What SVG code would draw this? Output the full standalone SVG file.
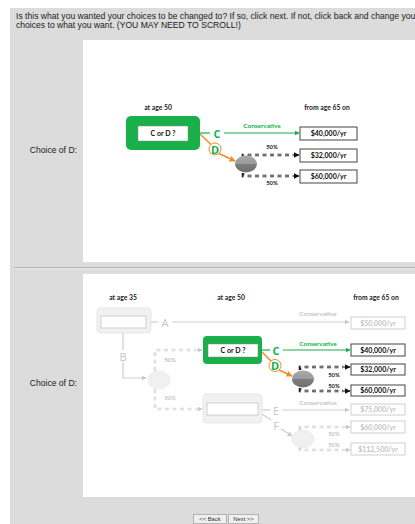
<svg xmlns="http://www.w3.org/2000/svg" width="415" height="524" viewBox="0 0 415 524">
  <style>
    .page { font-family: "Liberation Sans", Arial, sans-serif; font-size: 8.6px; fill: #222; }
    .lbl { font-family: Lato, "Open Sans", sans-serif; font-weight: bold; font-size: 6.8px; fill: #222; text-anchor: middle; }
    .val { font-family: Lato, "Open Sans", sans-serif; font-weight: bold; font-size: 7px; fill: #111; text-anchor: middle; }
    .pct { font-family: Lato, "Open Sans", sans-serif; font-weight: bold; font-size: 5.8px; fill: #222; text-anchor: middle; }
    .cons { font-family: Lato, "Open Sans", sans-serif; font-weight: bold; font-size: 6.4px; fill: #12b04a; text-anchor: middle; }
    .letter { font-family: "Open Sans", "Liberation Sans", sans-serif; font-weight: bold; font-size: 11px; fill: #12b04a; text-anchor: middle; dominant-baseline: central; }
    .fletter { font-family: "Open Sans", "Liberation Sans", sans-serif; font-size: 11px; fill: #c4c4c4; text-anchor: middle; dominant-baseline: central; }
    .faded { fill: #c4c4c4; }
    .box { fill: #fff; stroke: #444; stroke-width: 1; }
    .fbox { fill: #fff; stroke: #cfcfcf; stroke-width: 1; }
    .gline { stroke: #12b04a; stroke-width: 1.2; fill: none; }
    .oline { stroke: #f08a24; stroke-width: 1.4; fill: none; }
    .fline { stroke: #cdcdcd; stroke-width: 1.2; fill: none; }
    .dash { stroke: #222; stroke-width: 2.6; stroke-dasharray: 4 3.5; fill: none; }
    .fdash { stroke: #d2d2d2; stroke-width: 2.6; stroke-dasharray: 4 3.5; fill: none; }
    .gap { stroke: #fff; stroke-width: 0.7; fill: none; }
    .btn { fill: #efefef; stroke: #a8a8a8; stroke-width: 0.8; }
    .btnt { font-family: "Liberation Sans", Arial, sans-serif; font-size: 5.8px; fill: #333; text-anchor: middle; }
  </style>
  <defs>
    <marker id="ag" viewBox="0 0 10 10" refX="9" refY="5" markerWidth="5" markerHeight="5" orient="auto" markerUnits="userSpaceOnUse"><path d="M0,0 L10,5 L0,10 z" fill="#12b04a"/></marker>
    <marker id="ao" viewBox="0 0 10 10" refX="9" refY="5" markerWidth="6" markerHeight="6" orient="auto" markerUnits="userSpaceOnUse"><path d="M0,0 L10,5 L0,10 z" fill="#f08a24"/></marker>
    <marker id="ak" viewBox="0 0 10 10" refX="9" refY="5" markerWidth="6" markerHeight="6" orient="auto" markerUnits="userSpaceOnUse"><path d="M0,0 L10,5 L0,10 z" fill="#111"/></marker>
    <marker id="af" viewBox="0 0 10 10" refX="9" refY="5" markerWidth="5" markerHeight="5" orient="auto" markerUnits="userSpaceOnUse"><path d="M0,0 L10,5 L0,10 z" fill="#c8c8c8"/></marker>
    <linearGradient id="chance" x1="0" y1="0" x2="0" y2="1">
      <stop offset="0" stop-color="#a9a9a9"/>
      <stop offset="0.5" stop-color="#9a9a9a"/>
      <stop offset="0.5" stop-color="#7d7d7d"/>
      <stop offset="1" stop-color="#6f6f6f"/>
    </linearGradient>
  </defs>

  <!-- page background and panels -->
  <rect x="0" y="0" width="415" height="524" fill="#fff"/>
  <rect x="10" y="8" width="405" height="516" fill="#dcdcdc"/>
  <rect x="83" y="40" width="332" height="222" fill="#fff"/>
  <rect x="83" y="274" width="332" height="223" fill="#fff"/>
  <line x1="14" y1="267.5" x2="415" y2="267.5" stroke="#b9b9b9" stroke-width="1.2"/>
  <line x1="14" y1="269" x2="415" y2="269" stroke="#ececec" stroke-width="0.8"/>

  <text class="page" x="16" y="18.5">Is this what you wanted your choices to be changed to? If so, click next. If not, click back and change you</text>
  <text class="page" x="16" y="27.5">choices to what you want. (YOU MAY NEED TO SCROLL!)</text>
  <text class="page" x="77" y="153" text-anchor="end">Choice of D:</text>
  <text class="page" x="77" y="386" text-anchor="end">Choice of D:</text>

  <!-- ===== first tree ===== -->
  <g id="connectors-top">
    <line class="gline" x1="200" y1="133" x2="210" y2="133"/>
    <line class="gline" x1="224" y1="133" x2="299" y2="133" marker-end="url(#ag)"/>
    <line class="oline" x1="200" y1="134" x2="211" y2="144.5"/>
    <line class="oline" x1="219" y1="153.5" x2="235" y2="161" marker-end="url(#ao)"/>
    <path class="dash" d="M243,158 V155 H293"/>
    <path class="gap" d="M243,155 H293"/>
    <line x1="293" y1="155" x2="299" y2="155" stroke="#111" stroke-width="1" marker-end="url(#ak)"/>
    <path class="dash" d="M243,173 V176 H293"/>
    <path class="gap" d="M243,176 H293"/>
    <line x1="293" y1="176" x2="299" y2="176" stroke="#111" stroke-width="1" marker-end="url(#ak)"/>
  </g>
  <text class="lbl" x="158" y="110">at age 50</text>
  <text class="lbl" x="327" y="110">from age 65 on</text>
  <g id="decision-top">
    <rect x="126" y="116" width="74" height="34" rx="5" fill="#19b04c"/>
    <rect x="138" y="126" width="50" height="15" fill="#fff" stroke="#888" stroke-width="0.5"/>
    <text class="val" x="163" y="136">C or D ?</text>
  </g>
  <g id="choice-c-top">
    <text class="letter" x="217" y="133">C</text>
    <text class="cons" x="262" y="128">Conservative</text>
  </g>
  <g id="choice-d-top">
    <circle cx="215" cy="149" r="6" fill="#fff" stroke="#f08a24" stroke-width="1"/>
    <text class="letter" x="215" y="149">D</text>
  </g>
  <g id="chance-top">
    <ellipse cx="246" cy="164" rx="11" ry="8.5" fill="url(#chance)"/>
    <text class="pct" x="272" y="149">50%</text>
    <text class="pct" x="272" y="185">50%</text>
  </g>
  <g id="payoff-40k-top"><rect class="box" x="300" y="127" width="57" height="13"/><text class="val" x="328.5" y="136.2">$40,000/yr</text></g>
  <g id="payoff-32k-top"><rect class="box" x="300" y="149" width="57" height="13"/><text class="val" x="328.5" y="158.2">$32,000/yr</text></g>
  <g id="payoff-60k-top"><rect class="box" x="300" y="170" width="57" height="13"/><text class="val" x="328.5" y="179.2">$60,000/yr</text></g>

  <!-- ===== full tree ===== -->
  <g id="connectors-full">
    <!-- faded branches -->
    <line class="fline" x1="151" y1="322" x2="158" y2="322"/>
    <line class="fline" x1="172" y1="322" x2="349" y2="322" marker-end="url(#af)"/>
    <line class="fline" x1="123" y1="333" x2="123" y2="350"/>
    <path class="fline" d="M123,362 V378 H146" marker-end="url(#af)"/>
    <path class="fdash" d="M155,371 V350 H195"/>
    <path class="gap" d="M155,371 V350 H195"/>
    <line x1="195" y1="350" x2="202" y2="350" stroke="#c8c8c8" stroke-width="1" marker-end="url(#af)"/>
    <path class="fdash" d="M155,389 V409 H195"/>
    <path class="gap" d="M155,389 V409 H195"/>
    <line x1="195" y1="409" x2="202" y2="409" stroke="#c8c8c8" stroke-width="1" marker-end="url(#af)"/>
    <line class="fline" x1="262" y1="410" x2="270" y2="410"/>
    <line class="fline" x1="282" y1="410" x2="349" y2="410" marker-end="url(#af)"/>
    <line class="fline" x1="262" y1="414" x2="271" y2="420"/>
    <line class="fline" x1="281" y1="429" x2="292" y2="436" marker-end="url(#af)"/>
    <path class="fdash" d="M300,430 V427 H343"/>
    <path class="gap" d="M300,427 H343"/>
    <line x1="343" y1="427" x2="350" y2="427" stroke="#c8c8c8" stroke-width="1" marker-end="url(#af)"/>
    <path class="fdash" d="M300,447 V450 H343"/>
    <path class="gap" d="M300,450 H343"/>
    <line x1="343" y1="450" x2="350" y2="450" stroke="#c8c8c8" stroke-width="1" marker-end="url(#af)"/>
    <!-- live branches -->
    <line class="gline" x1="262" y1="350" x2="270" y2="350"/>
    <line class="gline" x1="283" y1="350" x2="350" y2="350" marker-end="url(#ag)"/>
    <line class="oline" x1="262" y1="352" x2="271" y2="361"/>
    <line class="oline" x1="279" y1="370" x2="292" y2="376" marker-end="url(#ao)"/>
    <path class="dash" d="M300,370 V367 H343"/>
    <path class="gap" d="M300,367 H343"/>
    <line x1="343" y1="367" x2="350" y2="367" stroke="#111" stroke-width="1" marker-end="url(#ak)"/>
    <path class="dash" d="M300,388 V391 H343"/>
    <path class="gap" d="M300,391 H343"/>
    <line x1="343" y1="391" x2="350" y2="391" stroke="#111" stroke-width="1" marker-end="url(#ak)"/>
  </g>
  <text class="lbl" x="123" y="300">at age 35</text>
  <text class="lbl" x="231" y="300">at age 50</text>
  <text class="lbl" x="376" y="300">from age 65 on</text>

  <g id="decision-35">
    <rect x="97" y="308" width="54" height="25" rx="4" fill="#f1f1f1" stroke="#e2e2e2" stroke-width="0.8"/>
    <rect class="fbox" x="101" y="316" width="45" height="12"/>
  </g>
  <g id="choice-a">
    <text class="fletter" x="165" y="322">A</text>
    <text class="cons faded" x="318" y="316">Conservative</text>
  </g>
  <g id="payoff-50k"><rect class="fbox" x="351" y="317" width="54" height="12"/><text class="val faded" x="378" y="325.7">$50,000/yr</text></g>
  <g id="choice-b"><text class="fletter" x="123" y="356">B</text></g>
  <g id="chance-b">
    <ellipse cx="159" cy="380" rx="11" ry="9" fill="#f0f0f0" stroke="#e6e6e6" stroke-width="0.6"/>
    <text class="pct faded" x="170" y="362">50%</text>
    <text class="pct faded" x="170" y="400">50%</text>
  </g>

  <g id="decision-50">
    <rect x="203" y="336" width="59" height="28" rx="4" fill="#19b04c"/>
    <rect x="208" y="344" width="50" height="13" fill="#fff" stroke="#888" stroke-width="0.5"/>
    <text class="val" x="233" y="353">C or D ?</text>
  </g>
  <g id="choice-c">
    <text class="letter" x="276" y="350">C</text>
    <text class="cons" x="318" y="346">Conservative</text>
  </g>
  <g id="payoff-40k"><rect class="box" x="351" y="344" width="54" height="12"/><text class="val" x="378" y="352.7">$40,000/yr</text></g>
  <g id="choice-d">
    <circle cx="275" cy="365.5" r="6" fill="#fff" stroke="#f08a24" stroke-width="1"/>
    <text class="letter" x="275" y="365.5">D</text>
  </g>
  <g id="chance-d">
    <ellipse cx="303" cy="379" rx="11" ry="8.5" fill="url(#chance)"/>
    <text class="pct" x="334" y="377">50%</text>
    <text class="pct" x="334" y="388">50%</text>
  </g>
  <g id="payoff-32k"><rect class="box" x="351" y="364" width="54" height="11"/><text class="val" x="378" y="372.2">$32,000/yr</text></g>
  <g id="payoff-60k"><rect class="box" x="351" y="385" width="54" height="11"/><text class="val" x="378" y="393.2">$60,000/yr</text></g>

  <g id="decision-50-alt">
    <rect x="203" y="394" width="59" height="29" rx="4" fill="#f1f1f1" stroke="#e2e2e2" stroke-width="0.8"/>
    <rect class="fbox" x="207" y="403" width="51" height="12"/>
  </g>
  <g id="choice-e">
    <text class="fletter" x="276" y="410">E</text>
    <text class="cons faded" x="318" y="405">Conservative</text>
  </g>
  <g id="payoff-75k"><rect class="fbox" x="351" y="404" width="54" height="11"/><text class="val faded" x="378" y="412.2">$75,000/yr</text></g>
  <g id="choice-f"><text class="fletter" x="276" y="425">F</text></g>
  <g id="chance-f">
    <ellipse cx="303" cy="439" rx="11" ry="9" fill="#f0f0f0" stroke="#e6e6e6" stroke-width="0.6"/>
    <text class="pct faded" x="334" y="436">50%</text>
    <text class="pct faded" x="334" y="447">50%</text>
  </g>
  <g id="payoff-60k-alt"><rect class="fbox" x="351" y="421" width="54" height="12"/><text class="val faded" x="378" y="429.7">$60,000/yr</text></g>
  <g id="payoff-112k"><rect class="fbox" x="351" y="443" width="54" height="12"/><text class="val faded" x="378" y="451.7">$112,500/yr</text></g>

  <!-- navigation buttons -->
  <g id="btn-back"><rect class="btn" x="193.5" y="514.5" width="33" height="9"/><text class="btnt" x="210" y="521">&lt;&lt; Back</text></g>
  <g id="btn-next"><rect class="btn" x="228.5" y="514.5" width="30" height="9"/><text class="btnt" x="243.5" y="521">Next &gt;&gt;</text></g>
</svg>
